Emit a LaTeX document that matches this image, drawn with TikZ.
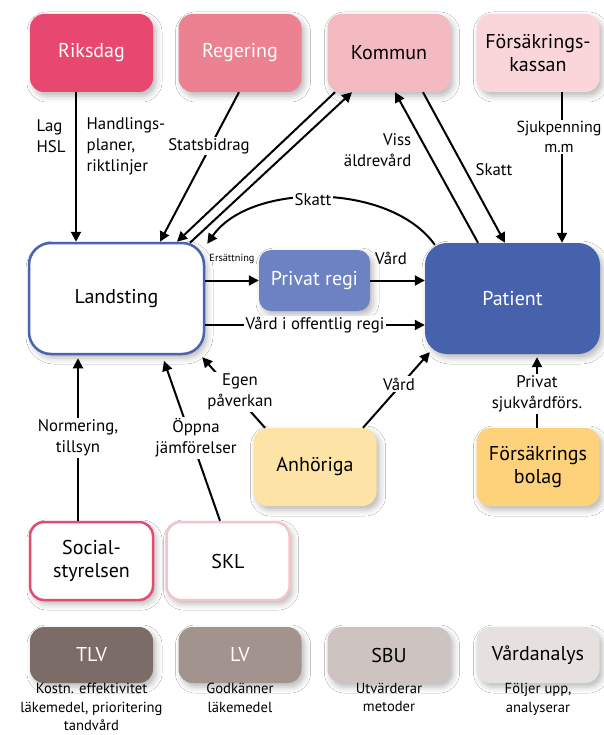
\documentclass[tikz,border=0pt]{standalone}
\usepackage{fontspec}
\setmainfont{PT Sans}
\usetikzlibrary{arrows.meta,shadows.blur}
\definecolor{cRiks}{HTML}{E8476F}
\definecolor{cReg}{HTML}{EC8192}
\definecolor{cKom}{HTML}{F4BAC1}
\definecolor{cFK}{HTML}{FAD6DB}
\definecolor{cBlue}{HTML}{4A64AE}
\definecolor{cPriv}{HTML}{6C82C3}
\definecolor{cPat}{HTML}{4662AD}
\definecolor{cAnh}{HTML}{FDE3A5}
\definecolor{cFB}{HTML}{FED27A}
\definecolor{cSoc}{HTML}{E24B72}
\definecolor{cSKL}{HTML}{F5C4CB}
\definecolor{cTLV}{HTML}{7B6C67}
\definecolor{cLV}{HTML}{A2938F}
\definecolor{cSBU}{HTML}{CDC4C1}
\definecolor{cVA}{HTML}{E6E1DE}
\tikzset{
  box/.style={rounded corners=14pt, minimum width=123pt, minimum height=78pt,
    align=center, inner sep=0pt, font=\fontsize{20}{23}\selectfont,
    blur shadow={shadow blur radius=6pt, shadow xshift=3pt, shadow yshift=-4pt, shadow opacity=28}},
  bigbox/.style={box, rounded corners=22pt, minimum width=175pt, minimum height=111pt},
  smallbox/.style={box, minimum height=56pt},
  arr/.style={-{Triangle[width=10pt,length=10pt]}, line width=2pt},
  lbl/.style={align=center, inner sep=1.5pt, font=\fontsize{16.8}{21}\selectfont},
  wlbl/.style={lbl, fill=white},
  blbl/.style={align=center, inner sep=0pt, font=\fontsize{14.6}{18.5}\selectfont}
}
\begin{document}
\begin{tikzpicture}[x=1pt,y=-1pt]
\useasboundingbox[fill=white] (0,0) rectangle (604,735);
% top row
\node[box, fill=cRiks, text=white] (riks) at (91.5,53) {Riksdag};
\node[box, fill=cReg, text=white] (reg) at (240,53) {Regering};
\node[box, fill=cKom] (kom) at (389,53) {Kommun};
\node[box, fill=cFK] (fk) at (538,53) {Försäkrings-\\kassan};
% middle
\node[bigbox, fill=white, draw=cBlue, line width=2.5pt] (land) at (116.5,298.5) {Landsting};
\node[box, fill=cPriv, text=white, rounded corners=12pt, minimum width=111pt, minimum height=61pt] (priv) at (314.5,280.5) {Privat regi};
\node[bigbox, fill=cPat, text=white] (pat) at (512.5,298.5) {Patient};
\node[box, fill=cAnh] (anh) at (315,467) {Anhöriga};
\node[box, fill=cFB] (fb) at (538,467) {Försäkrings\\bolag};
\node[box, fill=white, draw=cSoc, line width=2.5pt] (soc) at (91.5,561) {Social-\\styrelsen};
\node[box, fill=white, draw=cSKL, line width=2.5pt] (skl) at (228,561) {SKL};
% bottom
\node[smallbox, fill=cTLV, text=white] (tlv) at (91.5,655) {TLV};
\node[smallbox, fill=cLV, text=white] (lv) at (240,655) {LV};
\node[smallbox, fill=cSBU] (sbu) at (389,655) {SBU};
\node[smallbox, fill=cVA] (va) at (538,655) {Vårdanalys};
\node[blbl, anchor=north] (tlvt) at (91.5,683) {Kostn. effektivitet\\läkemedel, prioritering\\tandvård};
\node[blbl, anchor=north] (lvt) at (240,683) {Godkänner\\läkemedel};
\node[blbl, anchor=north] (sbut) at (389,683) {Utvärderar\\metoder};
\node[blbl, anchor=north] (vat) at (538,683) {Följer upp,\\analyserar};

% Riksdag -> Landsting
\draw[arr] ([xshift=-15.5pt]riks.south) -- ([xshift=-40.5pt]land.north);
\node[lbl, align=left, anchor=west] (lag) at (35,136) {Lag\\HSL};
\node[lbl, align=left, anchor=west] (hand) at (85,146) {Handlings-\\planer,\\riktlinjer};
% Regering -> Landsting
\draw[arr] ([xshift=-1pt]reg.south) -- ([xshift=43.5pt]land.north);
\node[wlbl] (stat) at (209,146) {Statsbidrag};
% Kommun <-> Landsting
\draw[arr] ([xshift=-54pt]kom.south) -- ([xshift=60.5pt]land.north);
\draw[arr] ([xshift=73.5pt,yshift=-1pt]land.north) -- ([xshift=-37pt]kom.south);
% Skatt curve Patient -> Landsting
\draw[arr] ([xshift=10pt,yshift=-2pt]pat.north west) .. controls (390,182) and (250,182) .. ([xshift=2pt,yshift=-2pt]land.north east);
\node[wlbl] (skatt1) at (313,200) {Skatt};
% Patient -> Kommun, Kommun -> Patient
\draw[arr] ([xshift=-34.5pt]pat.north) -- ([xshift=6pt]kom.south);
\node[lbl, align=right, anchor=east] (viss) at (413,150) {Viss\\äldrevård};
\draw[arr] ([xshift=34pt]kom.south) -- ([xshift=-7.5pt]pat.north);
\node[lbl] (skatt2) at (494,170) {Skatt};
% FK -> Patient
\draw[arr] ([xshift=24pt]fk.south) -- ([xshift=49.5pt]pat.north);
\node[wlbl, inner sep=1pt, font=\fontsize{16}{20}\selectfont] (sjuk) at (559,137) {Sjukpenning\\m.m};
% Landsting -> Privat -> Patient
\draw[arr] (land.east |- priv.west) -- (priv.west);
\node[lbl, font=\fontsize{10.3}{12}\selectfont] (ers) at (232,259) {Ersättning};
\draw[arr] (priv.east) -- (priv.east -| pat.west);
\node[lbl] (vard1) at (391,258) {Vård};
% Landsting -> Patient
\draw[arr] ([yshift=-26.5pt]land.east) -- ([yshift=-26.5pt]pat.west);
\node[wlbl] (voff) at (315,325) {Vård i offentlig regi};
% Anhöriga
\draw[arr] ([xshift=-50pt]anh.north) -- ([xshift=-3pt,yshift=-2pt]land.south east);
\node[wlbl] (egen) at (240,392) {Egen\\påverkan};
\draw[arr] ([xshift=48pt]anh.north) -- ([xshift=5pt,yshift=2pt]pat.south west);
\node[wlbl] (vard2) at (399,384) {Vård};
% Försäkringsbolag -> Patient
\draw[arr] ([xshift=-1pt]fb.north) -- ([xshift=24.5pt,yshift=-3pt]pat.south);
\node[wlbl] (privf) at (537,394) {Privat\\sjukvårdförs.};
% Socialstyrelsen, SKL -> Landsting
\draw[arr, shorten >=3pt] ([xshift=-13.5pt]soc.north) -- ([xshift=-38.5pt]land.south);
\node[wlbl] (norm) at (78,438) {Normering,\\tillsyn};
\draw[arr, shorten >=6pt] ([xshift=-8pt]skl.north) -- ([xshift=45.5pt]land.south);
\node[wlbl] (oppna) at (196,438) {Öppna\\jämförelser};
\end{tikzpicture}
\end{document}
